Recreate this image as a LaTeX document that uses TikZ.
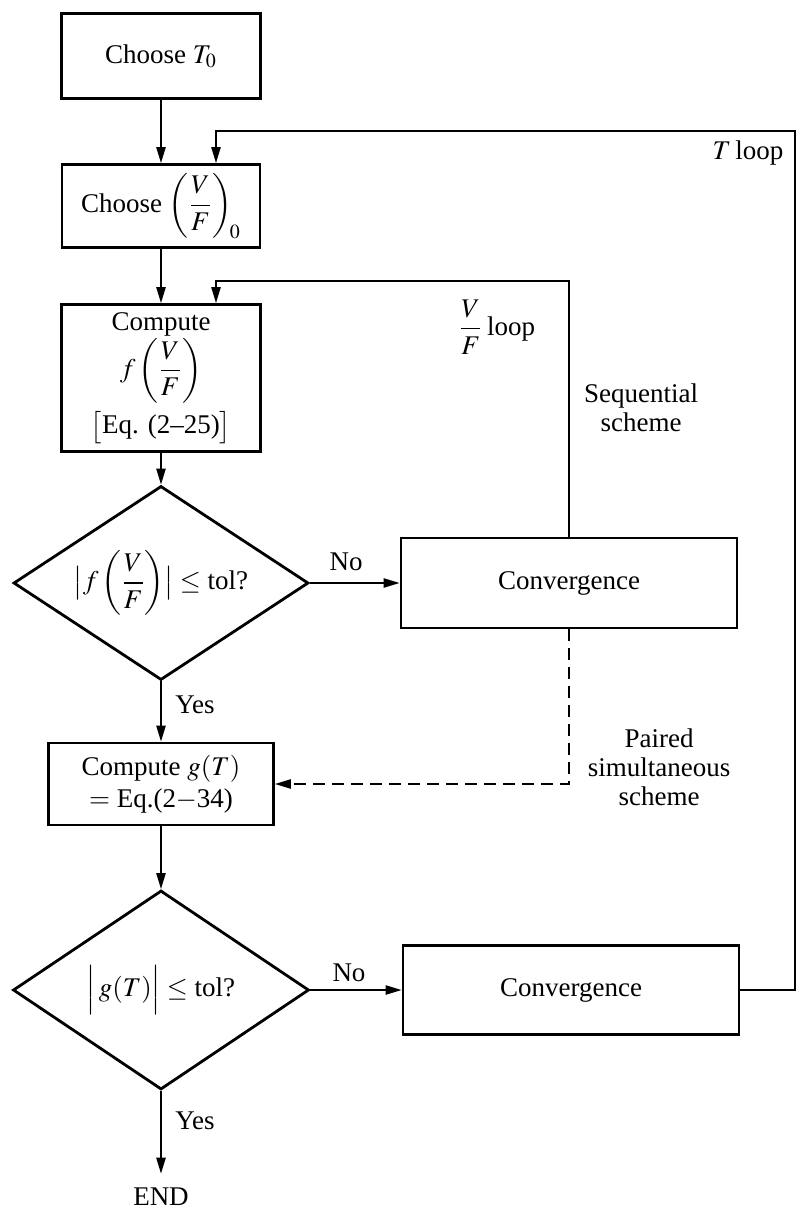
\documentclass[tikz,border=0pt]{standalone}
\usepackage{amsmath}
\usepackage{mathptmx}
\usepackage{fontspec}
\setmainfont{Liberation Serif}
\usetikzlibrary{arrows.meta,shapes.geometric}
\tikzset{
  ar/.style={-{Triangle[length=8pt,width=4.6pt]},line width=0.9pt},
  dar/.style={ar,dash pattern=on 6pt off 3.5pt},
  box/.style={draw,line width=1.4pt,align=center,inner sep=2pt},
  dec/.style={draw,diamond,line width=1.4pt,inner sep=0pt},
  lbl/.style={align=center,inner sep=1pt,font=\fontsize{13.5}{14.5}\selectfont}
}

\begin{document}
\begin{tikzpicture}[x=0.5pt,y=-0.5pt,font={\fontsize{13.5}{16}\selectfont}]
\useasboundingbox (0,0) rectangle (797,1209);
% main column
\node[box,minimum width=99.5pt,minimum height=42.5pt] (t0) at (161,56) {Choose $T_0$};
\node[box,minimum width=99pt,minimum height=41.5pt] (vf0) at (161,206) {Choose $\left(\dfrac{V}{F}\right)_{\!0}$};
\node[box,minimum width=99.5pt,minimum height=73.5pt] (fvf) at (161,378) {Compute\\ $f\left(\dfrac{V}{F}\right)$\\[3pt] $\big[$Eq. (2--25)$\big]$};
\node[dec,minimum width=147.5pt,minimum height=97pt] (q1) at (161,583) {};
\node (q1txt) at (q1) {$\bigl|f\left(\dfrac{V}{F}\right)\bigr|\le$ tol?};
\node[box,minimum width=112.5pt,minimum height=41pt] (g) at (161,784) {Compute $g(T)$\\ $=$ Eq.(2$-$34)};
\node[dec,minimum width=148pt,minimum height=99.5pt] (q2) at (161,990) {};
\node (q2txt) at (q2) {$\Big|\,g(T)\Big|\le$ tol?};
\node[inner sep=7pt] (end) at (161,1197) {END};
% convergence boxes
\node[box,minimum width=168pt,minimum height=45pt] (c1) at (569,583) {Convergence};
\node[box,minimum width=168pt,minimum height=44.5pt] (c2) at (571,990) {Convergence};
% labels
\node[lbl] (no1) at (346,562) {No};
\node[lbl] (yes1) at (195,705) {Yes};
\node[lbl] (no2) at (349,973) {No};
\node[lbl] (yes2) at (195,1121) {Yes};
\node[lbl] (tlp) at (748,153) {$T$\,loop};
\node[lbl] (vflp) at (497,327) {$\dfrac{V}{F}$\,loop};
\node[lbl] (seq) at (641,408) {Sequential\\scheme};
\node[lbl] (pair) at (659,767) {Paired\\simultaneous\\scheme};
% loop ends
\coordinate (tin) at ([xshift=27.5pt]vf0.north);
\coordinate (fin) at ([xshift=27.5pt]fvf.north);
\coordinate (tr) at (795,131);
% connectors
\draw[ar] (t0) -- (vf0);
\draw[ar] (vf0) -- (fvf);
\draw[ar] (fvf) -- (q1);
\draw[ar] (q1) -- (c1);
\draw[ar] (q1) -- (g);
\draw[dar] (c1.south) |- (g.east);
\draw[ar] (g) -- (q2);
\draw[ar] (q2) -- (c2);
\draw[ar] (q2) -- (end);
\draw[ar] (c1.north) |- ([yshift=11pt]fin) -- (fin);
\draw[ar] (c2.east) -| (tr) -| (tin);
\end{tikzpicture}
\end{document}
